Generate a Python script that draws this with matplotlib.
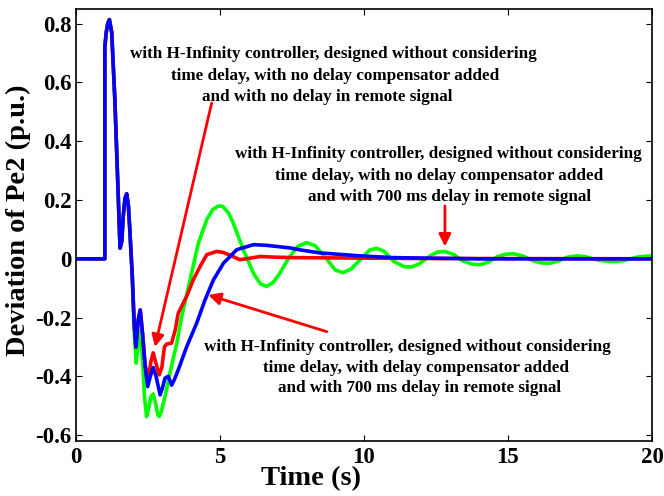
"""
Deviation of Pe2 for three H-Infinity controller cases
"""
import matplotlib
matplotlib.use("Agg")
import matplotlib.pyplot as plt

# common response before the curves split apart
t_start = [0, 1.0, 1.0, 1.05, 1.1, 1.16, 1.24, 1.35, 1.45, 1.53, 1.59, 1.64, 1.7, 1.76, 1.82,
           1.875, 1.95]
v_start = [0, 0, 0.72, 0.77, 0.80, 0.814, 0.77, 0.54, 0.26, 0.036, 0.06, 0.144, 0.205, 0.221,
           0.18, 0.087, -0.05]

# green: no delay compensator, 700 ms delay
t_green = t_start + [2.02, 2.09, 2.16, 2.22, 2.3, 2.38, 2.45, 2.52, 2.6, 2.68, 2.76, 2.84, 2.89,
                     2.96, 3.09, 3.26, 3.5, 3.67, 3.96, 4.25, 4.54, 4.75, 4.95, 5.1, 5.3, 5.46,
                     5.81, 6.16, 6.4, 6.62, 6.85, 7.08, 7.4, 7.7, 8.0, 8.3, 8.7, 9.0, 9.27, 9.55,
                     9.9, 10.2, 10.44, 10.7, 11.05, 11.4, 11.65, 11.9, 12.3, 12.55, 12.8, 13.1,
                     13.45, 13.75, 14.03, 14.3, 14.65, 14.95, 15.2, 15.5, 15.85, 16.15, 16.46,
                     16.75, 17.05, 17.4, 17.7, 18.1, 18.5, 18.8, 19.1, 19.5, 20.0]
v_green = v_start + [-0.25, -0.355, -0.28, -0.247, -0.33, -0.47, -0.537, -0.51, -0.47, -0.46,
                     -0.49, -0.53, -0.537, -0.52, -0.469, -0.39, -0.287, -0.197, -0.072, 0.053,
                     0.133, 0.168, 0.18, 0.178, 0.155, 0.122, 0.031, -0.049, -0.085, -0.094,
                     -0.08, -0.049, 0.005, 0.042, 0.055, 0.045, 0.0, -0.038, -0.047, -0.035,
                     0.0, 0.03, 0.036, 0.025, -0.01, -0.027, -0.028, -0.018, 0.01, 0.023, 0.025,
                     0.015, -0.008, -0.018, -0.02, -0.012, 0.008, 0.016, 0.017, 0.01, -0.006,
                     -0.014, -0.015, -0.008, 0.005, 0.01, 0.007, -0.004, -0.009, -0.009, -0.004,
                     0.006, 0.01]

# red: no delay compensator, no delay
t_red = t_start + [2.02, 2.08, 2.16, 2.23, 2.31, 2.4, 2.51, 2.6, 2.68, 2.76, 2.89, 2.98, 3.07,
                   3.15, 3.32, 3.45, 3.55, 3.84, 4.07, 4.31, 4.54, 4.88, 5.1, 5.35, 5.69, 6.04,
                   6.4, 6.8, 7.5, 9.0, 12.0, 20.0]
v_red = v_start + [-0.22, -0.30, -0.208, -0.174, -0.253, -0.36, -0.41, -0.35, -0.32, -0.35,
                   -0.395, -0.37, -0.30, -0.29, -0.287, -0.24, -0.185, -0.128, -0.072, -0.026,
                   0.014, 0.025, 0.022, 0.012, -0.003, 0.002, 0.008, 0.006, 0.004, 0.003,
                   0.001, 0.0]

# blue: with delay compensator, 700 ms delay
t_blue = t_start + [2.02, 2.08, 2.16, 2.23, 2.31, 2.4, 2.49, 2.58, 2.68, 2.78, 2.92, 3.0, 3.09,
                    3.2, 3.32, 3.42, 3.55, 3.84, 4.19, 4.48, 4.77, 5.12, 5.58, 6.16, 6.6, 6.97,
                    7.43, 7.8, 8.47, 9.86, 11.0, 12.4, 14.0, 20.0]
v_blue = v_start + [-0.22, -0.30, -0.208, -0.174, -0.253, -0.367, -0.435, -0.40, -0.37, -0.40,
                    -0.463, -0.44, -0.406, -0.40, -0.43, -0.41, -0.378, -0.30, -0.219, -0.14,
                    -0.072, -0.015, 0.031, 0.048, 0.046, 0.042, 0.037, 0.03, 0.02, 0.01, 0.004,
                    0.002, 0.0, 0.0]

x_ticks = [0, 5, 10, 15, 20]
y_ticks = [-0.6, -0.4, -0.2, 0, 0.2, 0.4, 0.6, 0.8]
y_tick_labels = ["-0.6", "-0.4", "-0.2", "0", "0.2", "0.4", "0.6", "0.8"]

note_no_delay = ["with H-Infinity controller, designed without considering",
                 "time delay, with no delay compensator added",
                 "and with no delay in remote signal"]
note_delay = ["with H-Infinity controller, designed without considering",
              "time delay, with no delay compensator added",
              "and with 700 ms delay in remote signal"]
note_comp = ["with H-Infinity controller, designed without considering",
             "time delay, with delay compensator added",
             "and with 700 ms delay in remote signal"]

plt.rcParams["font.family"] = ["Liberation Serif", "DejaVu Serif"]
plt.rcParams["font.weight"] = "bold"
plt.rcParams["axes.unicode_minus"] = False

fig = plt.figure(figsize=(6.64, 4.96), dpi=100)
ax = fig.add_axes([76 / 664, 55 / 496, 576 / 664, 432 / 496])

lw = 2.6
ax.plot(t_green, v_green, color=(0, 1, 0), lw=lw)
ax.plot(t_red, v_red, color=(1, 0, 0), lw=lw)
ax.plot(t_blue, v_blue, color=(0, 0, 1), lw=lw)

ax.set_xlim(0, 20)
ax.set_ylim(-0.62, 0.85)
ax.set_xticks(x_ticks)
ax.set_yticks(y_ticks)
ax.set_yticklabels(y_tick_labels)
ax.tick_params(direction="in", length=4, width=0.8, top=True, right=True,
               labelsize=16.5)
ax.tick_params(axis="x", pad=4)
ax.tick_params(axis="y", pad=3)
for sp in ax.spines.values():
    sp.set_linewidth(1.2)

ax.set_xlabel("Time (s)", fontsize=20.5, fontweight="bold")
ax.xaxis.set_label_coords(0.408, -0.058)
ax.set_ylabel("Deviation of Pe2 (p.u.)", fontsize=20.5, fontweight="bold")
ax.yaxis.set_label_coords(-0.078, 0.51)

fs = 12.3
for txt, x, y in zip(note_no_delay, [8.94, 8.99, 8.73], [0.684, 0.610, 0.538]):
    ax.text(x, y, txt, ha="center", va="baseline", fontsize=fs, fontweight="bold")
for txt, x, y in zip(note_delay, [12.57, 12.62, 12.97], [0.343, 0.269, 0.198]):
    ax.text(x, y, txt, ha="center", va="baseline", fontsize=fs, fontweight="bold")
for txt, x, y in zip(note_comp, [11.51, 11.82, 11.93], [-0.313, -0.384, -0.452]):
    ax.text(x, y, txt, ha="center", va="baseline", fontsize=fs, fontweight="bold")

arrow = dict(arrowstyle="-|>", color="red", lw=2.0, mutation_scale=18,
             shrinkA=0, shrinkB=0)
ax.annotate("", xy=(2.74, -0.30), xytext=(4.71, 0.53), arrowprops=arrow)
ax.annotate("", xy=(12.81, 0.042), xytext=(12.81, 0.18), arrowprops=arrow)
ax.annotate("", xy=(4.59, -0.123), xytext=(8.71, -0.248), arrowprops=arrow)

fig.savefig("out.png", dpi=100)
